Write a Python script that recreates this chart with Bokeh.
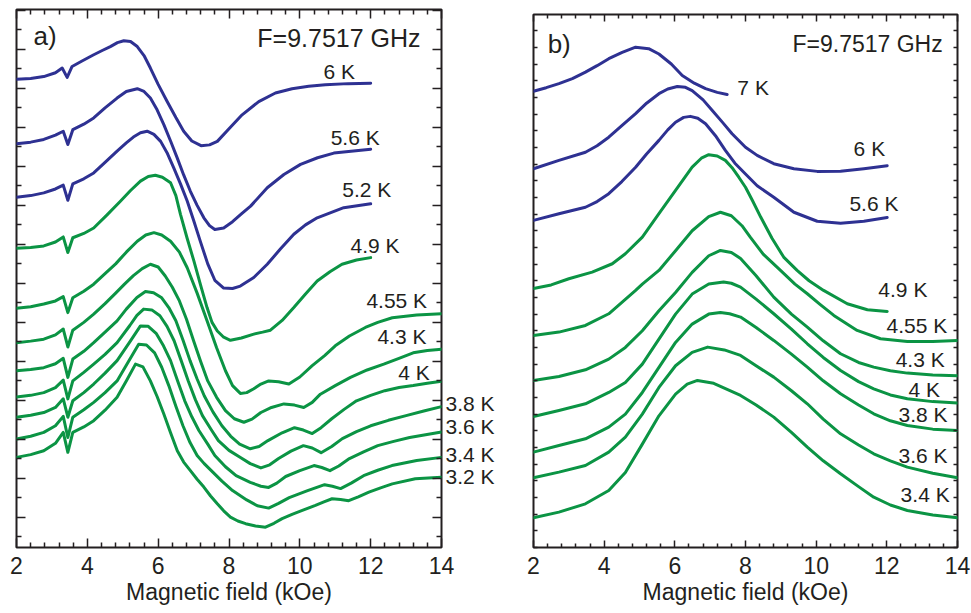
from bokeh.plotting import figure
from bokeh.models import Range1d, LinearAxis, FixedTicker, Label
from bokeh.layouts import row
from bokeh.embed import file_html
from bokeh.resources import INLINE

FONT = "Liberation Sans"
BLUE = "#2E3192"
GREEN = "#0B9444"
INK = "#231F20"

# ---------------- panel a) : derivative spectra (arb. units, offset) ----------------
a_6K_x = [2.0, 2.4, 2.77, 3.1, 3.29, 3.43, 3.57, 3.85, 4.18, 4.42, 4.65, 4.85, 5.03, 5.22, 5.41, 5.6, 5.78, 6.0, 6.25, 6.5, 6.72, 6.95, 7.21, 7.45, 7.67, 8.04, 8.37, 8.84, 9.31, 9.78, 10.25, 10.72, 11.36, 12.0]
a_6K_y = [11.23, 11.25, 11.30, 11.40, 11.52, 11.28, 11.56, 11.70, 11.86, 11.97, 12.07, 12.17, 12.22, 12.20, 12.07, 11.84, 11.52, 11.10, 10.67, 10.25, 9.90, 9.65, 9.53, 9.55, 9.64, 10.0, 10.32, 10.66, 10.88, 10.99, 11.05, 11.09, 11.12, 11.13]

a_5p6K_x = [2.0, 2.4, 2.77, 3.1, 3.32, 3.45, 3.59, 3.9, 4.18, 4.5, 4.84, 5.1, 5.41, 5.6, 5.78, 5.97, 6.16, 6.35, 6.54, 6.72, 6.91, 7.1, 7.29, 7.45, 7.6, 7.85, 8.1, 8.35, 8.61, 9.08, 9.55, 10.02, 10.5, 10.96, 12.0]
a_5p6K_y = [9.58, 9.62, 9.69, 9.80, 9.90, 9.56, 9.94, 10.08, 10.24, 10.50, 10.75, 10.92, 10.99, 10.92, 10.75, 10.45, 10.07, 9.65, 9.21, 8.78, 8.36, 8.0, 7.68, 7.48, 7.38, 7.42, 7.58, 7.78, 7.98, 8.45, 8.79, 9.05, 9.22, 9.34, 9.44]

a_5p2K_x = [2.0, 2.4, 2.77, 3.1, 3.32, 3.45, 3.59, 3.9, 4.18, 4.5, 4.84, 5.1, 5.3, 5.5, 5.69, 5.88, 6.07, 6.25, 6.44, 6.63, 6.82, 7.0, 7.2, 7.4, 7.6, 7.85, 8.1, 8.32, 8.7, 9.08, 9.45, 9.83, 10.16, 10.49, 11.24, 12.0]
a_5p2K_y = [8.21, 8.25, 8.32, 8.42, 8.52, 8.13, 8.55, 8.68, 8.83, 9.10, 9.39, 9.60, 9.75, 9.86, 9.90, 9.82, 9.64, 9.35, 8.96, 8.55, 8.11, 7.62, 7.05, 6.50, 6.08, 5.88, 5.87, 5.93, 6.15, 6.49, 6.88, 7.26, 7.50, 7.68, 7.94, 8.04]

a_4p9K_x = [2.0, 2.4, 2.77, 3.1, 3.32, 3.45, 3.59, 3.9, 4.18, 4.55, 4.94, 5.22, 5.50, 5.72, 5.92, 6.12, 6.35, 6.5, 6.63, 6.82, 7.01, 7.2, 7.38, 7.52, 7.67, 7.85, 8.04, 8.35, 8.70, 8.95, 9.17, 9.5, 9.83, 10.16, 10.49, 10.85, 11.19, 11.6, 12.0]
a_4p9K_y = [6.90, 6.92, 6.96, 7.06, 7.19, 6.79, 7.17, 7.28, 7.42, 7.75, 8.11, 8.38, 8.62, 8.74, 8.77, 8.72, 8.58, 8.25, 7.77, 7.15, 6.57, 5.95, 5.38, 5.0, 4.78, 4.62, 4.54, 4.60, 4.70, 4.75, 4.80, 5.05, 5.38, 5.73, 6.06, 6.30, 6.49, 6.60, 6.66]

a_4p55K_x = [2.0, 2.4, 2.77, 3.1, 3.32, 3.45, 3.59, 3.9, 4.18, 4.5, 4.8, 5.1, 5.41, 5.65, 5.88, 6.1, 6.35, 6.6, 6.82, 7.1, 7.38, 7.65, 7.9, 8.1, 8.32, 8.5, 8.7, 8.9, 9.12, 9.4, 9.69, 10.0, 10.35, 10.7, 11.0, 11.4, 11.85, 12.2, 12.61, 13.3, 14.0]
a_4p55K_y = [5.36, 5.40, 5.47, 5.55, 5.66, 5.25, 5.63, 5.80, 5.98, 6.25, 6.50, 6.80, 7.08, 7.24, 7.30, 7.24, 7.08, 6.80, 6.40, 5.75, 5.04, 4.35, 3.76, 3.38, 3.18, 3.20, 3.30, 3.42, 3.50, 3.48, 3.42, 3.60, 3.89, 4.15, 4.40, 4.65, 4.87, 5.0, 5.12, 5.19, 5.22]

a_4p3K_x = [2.0, 2.4, 2.77, 3.1, 3.32, 3.45, 3.59, 3.9, 4.18, 4.5, 4.8, 5.05, 5.3, 5.55, 5.78, 6.0, 6.2, 6.4, 6.6, 6.8, 7.0, 7.2, 7.4, 7.65, 7.9, 8.15, 8.42, 8.65, 8.9, 9.2, 9.55, 9.85, 10.11, 10.35, 10.58, 11.0, 11.43, 11.9, 12.37, 12.8, 13.2, 13.6, 14.0]
a_4p3K_y = [4.48, 4.52, 4.57, 4.68, 4.83, 4.37, 4.80, 5.0, 5.21, 5.48, 5.75, 5.98, 6.2, 6.38, 6.49, 6.42, 6.19, 5.90, 5.55, 5.08, 4.53, 4.0, 3.50, 3.08, 2.74, 2.53, 2.44, 2.52, 2.69, 2.82, 2.91, 2.88, 2.82, 2.95, 3.16, 3.38, 3.59, 3.78, 3.93, 4.08, 4.22, 4.28, 4.31]

a_4K_x = [2.0, 2.4, 2.77, 3.1, 3.32, 3.45, 3.59, 3.9, 4.18, 4.5, 4.84, 5.1, 5.4, 5.64, 5.87, 6.1, 6.3, 6.5, 6.7, 6.9, 7.1, 7.3, 7.55, 7.8, 8.05, 8.3, 8.6, 8.85, 9.1, 9.5, 9.85, 10.1, 10.35, 10.6, 10.9, 11.25, 11.6, 12.0, 12.4, 12.8, 13.2, 13.6, 14.0]
a_4K_y = [3.76, 3.79, 3.84, 3.94, 4.08, 3.59, 4.06, 4.26, 4.48, 4.75, 5.04, 5.34, 5.64, 5.79, 5.76, 5.63, 5.38, 5.04, 4.55, 4.02, 3.55, 3.12, 2.70, 2.35, 2.08, 1.88, 1.76, 1.82, 1.97, 2.17, 2.30, 2.24, 2.15, 2.30, 2.53, 2.77, 2.99, 3.13, 3.25, 3.33, 3.38, 3.44, 3.49]

a_3p8K_x = [2.0, 2.4, 2.77, 3.1, 3.32, 3.45, 3.59, 3.9, 4.18, 4.5, 4.84, 5.2, 5.4, 5.59, 5.82, 6.05, 6.25, 6.45, 6.65, 6.85, 7.05, 7.25, 7.5, 7.7, 8.0, 8.3, 8.6, 8.9, 9.15, 9.4, 9.75, 10.1, 10.35, 10.6, 10.9, 11.2, 11.6, 12.0, 12.5, 13.0, 13.5, 14.0]
a_3p8K_y = [3.09, 3.13, 3.20, 3.33, 3.52, 3.04, 3.50, 3.72, 3.93, 4.18, 4.48, 4.92, 5.18, 5.34, 5.32, 5.17, 4.90, 4.53, 4.02, 3.50, 3.02, 2.61, 2.25, 1.97, 1.72, 1.55, 1.38, 1.27, 1.35, 1.51, 1.70, 1.84, 1.78, 1.66, 1.82, 2.02, 2.20, 2.35, 2.49, 2.61, 2.73, 2.84]

a_3p6K_x = [2.0, 2.4, 2.77, 3.1, 3.32, 3.45, 3.59, 3.9, 4.18, 4.5, 4.84, 5.2, 5.5, 5.72, 5.95, 6.15, 6.35, 6.55, 6.75, 6.95, 7.15, 7.4, 7.6, 7.9, 8.2, 8.6, 8.9, 9.12, 9.35, 9.6, 10.0, 10.4, 10.62, 10.85, 11.1, 11.4, 11.8, 12.2, 12.65, 13.1, 13.55, 14.0]
a_3p6K_y = [2.57, 2.62, 2.69, 2.82, 3.04, 2.57, 2.99, 3.2, 3.42, 3.70, 4.02, 4.50, 4.91, 4.90, 4.71, 4.40, 4.02, 3.50, 2.99, 2.58, 2.23, 1.88, 1.59, 1.30, 1.07, 0.90, 0.80, 0.77, 0.88, 1.05, 1.20, 1.33, 1.28, 1.20, 1.32, 1.51, 1.68, 1.84, 1.95, 2.05, 2.12, 2.19]

a_3p4K_x = [2.0, 2.4, 2.77, 3.1, 3.32, 3.45, 3.59, 3.9, 4.18, 4.5, 4.84, 5.15, 5.45, 5.67, 5.9, 6.1, 6.3, 6.5, 6.7, 6.9, 7.1, 7.3, 7.5, 7.8, 8.1, 8.5, 8.8, 9.12, 9.4, 9.7, 10.2, 10.7, 10.92, 11.15, 11.45, 11.8, 12.2, 12.6, 13.3, 14.0]
a_3p4K_y = [2.01, 2.08, 2.18, 2.35, 2.59, 2.05, 2.57, 2.76, 2.95, 3.20, 3.50, 3.98, 4.44, 4.42, 4.22, 3.85, 3.38, 2.85, 2.35, 1.92, 1.59, 1.38, 1.20, 0.93, 0.69, 0.45, 0.30, 0.24, 0.36, 0.51, 0.68, 0.84, 0.80, 0.74, 0.88, 1.07, 1.21, 1.33, 1.46, 1.54]

a_3p2K_x = [2.0, 2.4, 2.77, 3.1, 3.32, 3.45, 3.59, 3.9, 4.18, 4.5, 4.84, 5.1, 5.36, 5.57, 5.78, 5.97, 6.16, 6.35, 6.54, 6.72, 6.91, 7.1, 7.29, 7.48, 7.67, 7.85, 8.04, 8.25, 8.47, 8.75, 9.03, 9.27, 9.50, 9.78, 10.07, 10.44, 10.68, 10.91, 11.15, 11.38, 11.65, 11.95, 12.28, 12.61, 13.26, 14.0]
a_3p2K_y = [1.54, 1.61, 1.71, 1.90, 2.18, 1.67, 2.18, 2.32, 2.48, 2.75, 3.08, 3.50, 3.93, 3.86, 3.50, 3.10, 2.65, 2.17, 1.71, 1.42, 1.20, 0.98, 0.78, 0.55, 0.35, 0.17, 0.01, -0.09, -0.16, -0.22, -0.25, -0.15, -0.03, 0.08, 0.18, 0.31, 0.40, 0.48, 0.46, 0.43, 0.53, 0.65, 0.76, 0.86, 0.99, 1.03]

# ---------------- panel b) : integrated spectra (arb. units, offset) ----------------
b_7K_x = [2.0, 2.36, 2.72, 3.1, 3.47, 3.8, 4.13, 4.51, 4.89, 5.26, 5.55, 5.9, 6.21, 6.55, 6.87, 7.2, 7.48]
b_7K_y = [27.37, 27.58, 27.82, 28.12, 28.51, 28.9, 29.32, 29.70, 30.01, 29.92, 29.6, 29.0, 28.31, 27.85, 27.52, 27.3, 27.17]

b_6K_x = [2.0, 2.72, 3.47, 3.8, 4.13, 4.5, 4.89, 5.2, 5.55, 5.8, 6.07, 6.3, 6.49, 6.8, 7.06, 7.35, 7.62, 8.0, 8.33, 8.80, 9.37, 10.03, 10.69, 11.35, 12.01]
b_6K_y = [22.72, 23.22, 23.71, 24.1, 24.61, 25.3, 26.02, 26.65, 27.22, 27.5, 27.65, 27.6, 27.41, 26.85, 26.21, 25.5, 24.82, 24.01, 23.52, 23.02, 22.72, 22.56, 22.57, 22.72, 22.90]

b_5p6K_x = [2.0, 2.72, 3.47, 3.8, 4.13, 4.5, 4.89, 5.2, 5.55, 5.8, 6.02, 6.25, 6.44, 6.65, 6.87, 7.15, 7.43, 7.7, 8.0, 8.33, 8.80, 9.37, 10.03, 10.69, 11.35, 12.01]
b_5p6K_y = [19.62, 20.02, 20.41, 20.75, 21.22, 21.95, 22.81, 23.6, 24.42, 25.05, 25.51, 25.8, 25.86, 25.75, 25.42, 24.7, 23.82, 23.05, 22.4, 21.7, 21.01, 20.11, 19.57, 19.45, 19.57, 19.80]

b_4p9K_x = [2.0, 2.5, 3.0, 3.66, 4.23, 4.60, 5.08, 5.55, 6.02, 6.49, 6.75, 6.96, 7.2, 7.43, 7.62, 7.81, 8.0, 8.2, 8.43, 8.75, 9.08, 9.46, 9.8, 10.21, 10.88, 11.45, 12.01]
b_4p9K_y = [15.54, 15.75, 16.12, 16.52, 17.02, 17.62, 18.62, 20.02, 21.42, 22.82, 23.35, 23.56, 23.48, 23.22, 22.78, 22.21, 21.61, 20.8, 19.82, 18.55, 17.42, 16.62, 16.0, 15.42, 14.62, 14.26, 14.16]

b_4p55K_x = [2.0, 2.72, 3.47, 4.13, 4.89, 5.08, 5.55, 6.02, 6.49, 6.96, 7.29, 7.6, 7.9, 8.14, 8.5, 8.99, 9.4, 9.75, 10.1, 10.50, 11.16, 11.82, 12.58, 13.3, 14.0]
b_4p55K_y = [12.72, 12.92, 13.32, 14.02, 15.42, 15.8, 16.62, 17.8, 19.0, 19.85, 20.11, 19.9, 19.3, 18.6, 17.6, 16.62, 15.8, 15.22, 14.6, 13.92, 13.02, 12.52, 12.36, 12.36, 12.42]

b_4p3K_x = [2.0, 2.72, 3.47, 4.13, 4.6, 5.08, 5.55, 6.02, 6.49, 6.96, 7.29, 7.6, 7.86, 8.3, 8.80, 9.3, 9.75, 10.2, 10.69, 11.2, 11.63, 12.1, 12.58, 13.3, 14.0]
b_4p3K_y = [10.02, 10.26, 10.66, 11.3, 12.0, 13.0, 14.2, 15.3, 16.5, 17.5, 17.82, 17.7, 17.34, 16.3, 15.02, 14.0, 13.22, 12.4, 11.62, 11.1, 10.82, 10.6, 10.46, 10.35, 10.30]

b_4K_x = [2.0, 2.72, 3.47, 4.13, 4.6, 5.08, 5.55, 6.02, 6.49, 6.96, 7.38, 7.6, 7.86, 8.3, 8.80, 9.3, 9.75, 10.2, 10.69, 11.2, 11.63, 12.1, 12.58, 13.3, 14.0]
b_4K_y = [7.86, 8.22, 8.62, 9.3, 9.9, 11.0, 12.5, 14.0, 15.2, 15.8, 15.92, 15.85, 15.62, 14.9, 14.02, 13.1, 12.22, 11.4, 10.62, 9.95, 9.52, 9.15, 8.92, 8.75, 8.66]

b_3p8K_x = [2.0, 2.72, 3.47, 4.13, 4.6, 5.08, 5.55, 6.02, 6.49, 6.96, 7.29, 7.55, 7.86, 8.3, 8.80, 9.3, 9.75, 10.2, 10.69, 11.2, 11.63, 12.1, 12.58, 13.3, 14.0]
b_3p8K_y = [5.72, 6.12, 6.52, 7.22, 8.0, 9.3, 10.8, 12.3, 13.4, 14.0, 14.10, 14.02, 13.82, 13.2, 12.42, 11.6, 10.82, 10.0, 9.22, 8.55, 8.02, 7.6, 7.32, 7.1, 7.02]

b_3p6K_x = [2.0, 2.72, 3.47, 4.13, 4.6, 5.08, 5.55, 6.02, 6.49, 6.93, 7.4, 7.86, 8.3, 8.80, 9.3, 9.75, 10.2, 10.69, 11.2, 11.63, 12.1, 12.58, 13.3, 14.0]
b_3p6K_y = [4.18, 4.52, 4.92, 5.72, 6.62, 8.0, 9.6, 10.9, 11.7, 12.02, 11.85, 11.52, 10.9, 10.22, 9.4, 8.62, 7.7, 6.82, 6.15, 5.62, 5.2, 4.82, 4.45, 4.18]

b_3p4K_x = [2.0, 2.72, 3.47, 4.13, 4.6, 5.08, 5.55, 6.02, 6.35, 6.64, 7.1, 7.86, 8.3, 8.80, 9.3, 9.75, 10.2, 10.69, 11.2, 11.63, 12.1, 12.58, 13.3, 14.0]
b_3p4K_y = [1.78, 2.12, 2.62, 3.42, 4.5, 6.2, 7.9, 9.2, 9.8, 10.02, 9.85, 9.12, 8.55, 7.82, 6.9, 6.02, 5.2, 4.42, 3.65, 3.02, 2.55, 2.22, 1.95, 1.78]

a_series = [
    (a_6K_x, a_6K_y, BLUE), (a_5p6K_x, a_5p6K_y, BLUE), (a_5p2K_x, a_5p2K_y, BLUE),
    (a_4p9K_x, a_4p9K_y, GREEN), (a_4p55K_x, a_4p55K_y, GREEN), (a_4p3K_x, a_4p3K_y, GREEN),
    (a_4K_x, a_4K_y, GREEN), (a_3p8K_x, a_3p8K_y, GREEN), (a_3p6K_x, a_3p6K_y, GREEN),
    (a_3p4K_x, a_3p4K_y, GREEN), (a_3p2K_x, a_3p2K_y, GREEN),
]
b_series = [
    (b_7K_x, b_7K_y, BLUE), (b_6K_x, b_6K_y, BLUE), (b_5p6K_x, b_5p6K_y, BLUE),
    (b_4p9K_x, b_4p9K_y, GREEN), (b_4p55K_x, b_4p55K_y, GREEN), (b_4p3K_x, b_4p3K_y, GREEN),
    (b_4K_x, b_4K_y, GREEN), (b_3p8K_x, b_3p8K_y, GREEN), (b_3p6K_x, b_3p6K_y, GREEN),
    (b_3p4K_x, b_3p4K_y, GREEN),
]

# temperature labels inside the frames: (text, x of left edge, y of text middle)
a_labels = [("6 K", 10.67, 11.42), ("5.6 K", 10.87, 9.73), ("5.2 K", 11.20, 8.40),
            ("4.9 K", 11.43, 6.97), ("4.55 K", 11.88, 5.57), ("4.3 K", 12.19, 4.64),
            ("4 K", 12.78, 3.72)]
# temperature labels just outside the right edge of panel a)
a_side_pos = [2.93, 2.34, 1.61, 1.05]
a_side_txt = ["3.8 K", "3.6 K", "3.4 K", "3.2 K"]
b_labels = [("7 K", 7.77, 27.57), ("6 K", 11.06, 23.91), ("5.6 K", 10.94, 20.61),
            ("4.9 K", 11.76, 15.45), ("4.55 K", 11.99, 13.29), ("4.3 K", 12.25, 11.25),
            ("4 K", 12.61, 9.45), ("3.8 K", 12.33, 7.95), ("3.6 K", 12.33, 5.49),
            ("3.4 K", 12.39, 3.16)]

x_major = [2, 4, 6, 8, 10, 12, 14]
x_minor = [round(2 + 0.4 * k, 2) for k in range(31) if k % 5]


def style_axis(ax, major_in, minor_in, show_labels):
    ax.axis_line_color = None
    ax.major_tick_in = major_in
    ax.major_tick_out = 0
    ax.minor_tick_in = minor_in
    ax.minor_tick_out = 0
    ax.major_tick_line_color = INK
    ax.minor_tick_line_color = INK
    ax.major_tick_line_width = 1.5
    ax.minor_tick_line_width = 1.5
    if show_labels:
        ax.major_label_text_font = FONT
        ax.major_label_text_font_size = "23px"
        ax.major_label_text_color = INK
        ax.major_label_standoff = 9
        ax.axis_label_text_font = FONT
        ax.axis_label_text_font_size = "23px"
        ax.axis_label_text_font_style = "normal"
        ax.axis_label_text_color = INK
        ax.axis_label_standoff = 2
    else:
        # tick marks only: labels switched off so the axis takes no room
        ax.major_label_text_color = None
        ax.major_label_text_font_size = "0px"
        ax.major_label_standoff = 0
        ax.axis_label = None


def panel(width, height, ylo, yhi, yt_major, yt_minor, ymaj_len, ymin_len, xmaj_len, xmin_len,
          bl, br, bt, series, labels, tag, tag_xy, freq_xy, freq_size, lab_size):
    p = figure(width=width, height=height, output_backend="svg", toolbar_location=None,
               title=None,
               x_range=Range1d(2, 14), y_range=Range1d(ylo, yhi),
               min_border_left=bl, min_border_right=br, min_border_top=bt,
               min_border_bottom=63)
    p.xgrid.visible = False
    p.ygrid.visible = False
    p.outline_line_color = INK
    p.outline_line_width = 2
    p.background_fill_color = "white"
    p.border_fill_color = "white"
    p.xaxis.ticker = FixedTicker(ticks=x_major, minor_ticks=x_minor)
    p.yaxis.ticker = FixedTicker(ticks=yt_major, minor_ticks=yt_minor)
    p.xaxis.axis_label = "Magnetic field (kOe)"
    style_axis(p.xaxis[0], xmaj_len, xmin_len, True)
    style_axis(p.yaxis[0], ymaj_len, ymin_len, False)
    top = LinearAxis(ticker=FixedTicker(ticks=x_major, minor_ticks=x_minor))
    style_axis(top, xmaj_len, xmin_len, False)
    p.add_layout(top, "above")
    right = LinearAxis(ticker=FixedTicker(ticks=yt_major, minor_ticks=yt_minor))
    style_axis(right, ymaj_len, ymin_len, False)
    p.add_layout(right, "right")

    for xs, ys, col in series:
        p.line(xs, ys, line_color=col, line_width=3, line_join="round", line_cap="round")

    for txt, lx, ly in labels:
        p.add_layout(Label(x=lx, y=ly, text=txt, text_font=FONT, text_font_size=lab_size,
                           text_color=INK, text_baseline="middle", text_align="left"))
    p.add_layout(Label(x=tag_xy[0], y=tag_xy[1], text=tag, text_font=FONT,
                       text_font_size="26px", text_color=INK, text_baseline="middle"))
    p.add_layout(Label(x=freq_xy[0], y=freq_xy[1], text="F=9.7517 GHz", text_font=FONT,
                       text_font_size=freq_size, text_color=INK, text_baseline="middle"))
    return p


pa = panel(518, 615, -0.77, 13.02, list(range(0, 14)), [k + 0.5 for k in range(-1, 13)],
           9, 5, 9, 5, 16, 77, 13, a_series, a_labels, "a)", (2.48, 12.35), (8.80, 12.30),
           "25px", "21px")
# the top border of panel a) cannot go below its axis band; lift the whole figure a little
pa.styles = {"position": "relative", "top": "-5px"}

# labels for the lowest curves of panel a) sit outside the frame: use an extra right axis
side = LinearAxis(ticker=FixedTicker(ticks=a_side_pos, minor_ticks=[]),
                  major_label_overrides=dict(zip(a_side_pos, a_side_txt)))
side.axis_line_color = None
side.major_tick_in = 0
side.major_tick_out = 0
side.minor_tick_in = 0
side.minor_tick_out = 0
side.major_label_standoff = 4
side.major_label_text_font = FONT
side.major_label_text_font_size = "21px"
side.major_label_text_color = INK
pa.add_layout(side, "right")

pb = panel(453, 610, 0, 31.97, list(range(0, 33)), [], 4, 2, 7, 4, 15, 14, 14,
           b_series, b_labels, "b)", (2.40, 30.2), (9.33, 30.19), "23px", "21px")

layout = row(pa, pb)
open("out.html", "w").write(file_html(layout, INLINE))
